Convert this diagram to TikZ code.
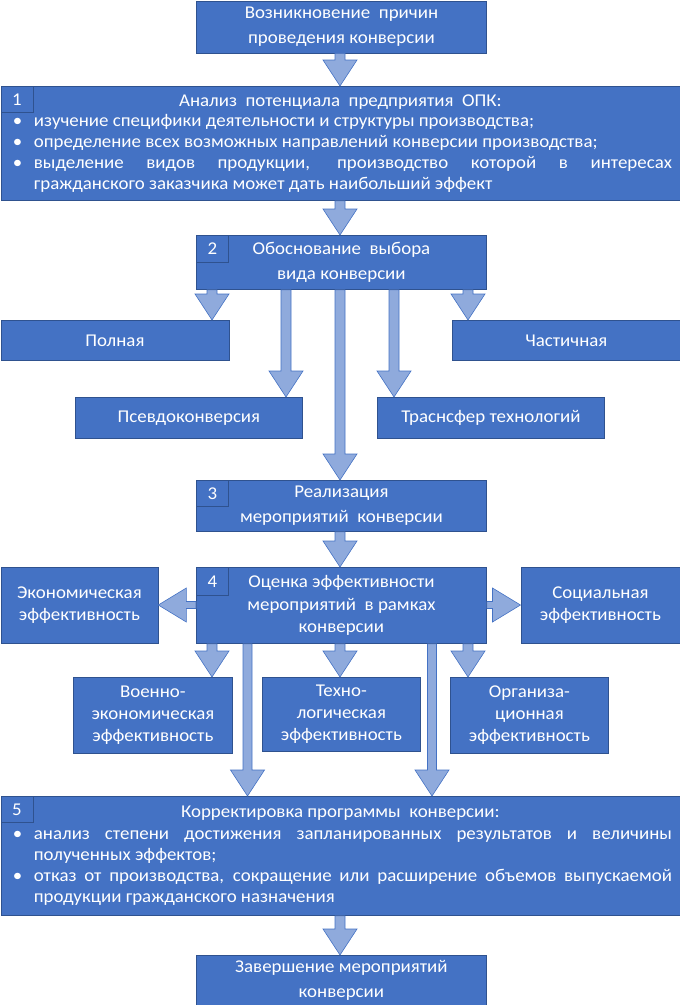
\documentclass[tikz,border=0pt]{standalone}
\usepackage{fontspec}
\setmainfont[FakeStretch=1.05]{Carlito}
\usetikzlibrary{calc}
\definecolor{boxfill}{RGB}{68,114,196}
\definecolor{boxline}{RGB}{47,82,143}
\definecolor{arrfill}{RGB}{143,170,220}
\definecolor{arrline}{RGB}{68,114,196}
\tikzset{
  box/.style={draw=boxline, fill=boxfill, text=white, line width=0.8pt, inner sep=0pt,
    anchor=north west, align=center, font=\fontsize{18}{24.5}\selectfont},
  smallbox/.style={box, font=\fontsize{18}{22}\selectfont},
  numbox/.style={draw=boxline, fill=boxfill, text=white, line width=0.8pt, inner sep=0pt,
    anchor=north west, minimum width=32pt, minimum height=26pt, font=\fontsize{18}{20}\selectfont},
  barrow/.style={draw=arrline, fill=arrfill, line width=0.6pt, line join=miter},
}
% vertical block arrow: #1 x position, #2 source node, #3 target node, #4 shaft half width
\newcommand\arrdown[4]{%
  \path[barrow] let \p1=(#1,0), \p2=(#2.south), \p3=(#3.north) in
    (\x1-#4,\y2) -- (\x1-#4,\y3+26pt) -- (\x1-17pt,\y3+26pt) -- (\x1,\y3) --
    (\x1+17pt,\y3+26pt) -- (\x1+#4,\y3+26pt) -- (\x1+#4,\y2) -- cycle;}
% horizontal block arrows: #1 source, #2 target, #3 y position
\newcommand\arrleft[3]{%
  \path[barrow] let \p1=(0,#3), \p2=(#1.west), \p3=(#2.east) in
    (\x2,\y1+3.5pt) -- (\x3+28pt,\y1+3.5pt) -- (\x3+28pt,\y1+17pt) -- (\x3,\y1) --
    (\x3+28pt,\y1-17pt) -- (\x3+28pt,\y1-3.5pt) -- (\x2,\y1-3.5pt) -- cycle;}
\newcommand\arrright[3]{%
  \path[barrow] let \p1=(0,#3), \p2=(#1.east), \p3=(#2.west) in
    (\x2,\y1+3.5pt) -- (\x3-28pt,\y1+3.5pt) -- (\x3-28pt,\y1+17pt) -- (\x3,\y1) --
    (\x3-28pt,\y1-17pt) -- (\x3-28pt,\y1-3.5pt) -- (\x2,\y1-3.5pt) -- cycle;}
\newcommand\bitem{\par\noindent\hangindent=25pt\hangafter=1\makebox[25pt][l]{\hspace{4pt}•}}
\begin{document}
\begin{tikzpicture}[x=1pt,y=-1pt]
\useasboundingbox (0,0) rectangle (680,1005);
% boxes
\node[box, minimum width=290pt, minimum height=52pt] (top) at (196,0.5)
  {Возникновение\ \ причин\\проведения конверсии};
\node[box, minimum width=679pt, minimum height=114pt, text width=663pt, inner xsep=8pt,
  align=justify, font=\fontsize{18}{20.8}\selectfont] (b1) at (0.5,86)
  {\makebox[\linewidth][c]{Анализ\ \ потенциала\ \ предприятия\ \ ОПК:}%
   \bitem изучение специфики деятельности и структуры производства;%
   \bitem определение всех возможных направлений конверсии производства;%
   \bitem выделение видов продукции, производство которой в интересах\linebreak гражданского заказчика может дать наибольший эффект\par};
\node[numbox] (n1) at (0.5,86) {1};
\node[box, minimum width=290pt, minimum height=54pt] (b2) at (196,235)
  {Обоснование\ \ выбора\\вида конверсии};
\node[numbox, minimum height=27pt] (n2) at (196,235) {2};
\node[box, minimum width=228pt, minimum height=40pt] (full) at (0.5,320) {Полная};
\node[box, minimum width=228pt, minimum height=40pt] (part) at (452,320) {Частичная};
\node[box, minimum width=227pt, minimum height=41pt] (pseudo) at (75,397) {Псевдоконверсия};
\node[box, minimum width=227pt, minimum height=41pt] (trans) at (377,397) {Траснсфер технологий};
\node[box, minimum width=290pt, minimum height=51pt] (b3) at (196,480)
  {Реализация\\мероприятий\ \ конверсии};
\node[numbox] (n3) at (196,480) {3};
\node[box, minimum width=290pt, minimum height=76pt, font=\fontsize{18}{22.5}\selectfont] (b4) at (196,567)
  {Оценка эффективности\\мероприятий\ \ в рамках\\конверсии};
\node[numbox, minimum height=28pt] (n4) at (196,567) {4};
\node[smallbox, minimum width=157pt, minimum height=76pt] (econ) at (0.5,567)
  {Экономическая\\эффективность};
\node[smallbox, minimum width=159pt, minimum height=76pt] (soc) at (520.5,567)
  {Социальная\\эффективность};
\node[smallbox, minimum width=159pt, minimum height=76pt] (mil) at (73,677)
  {Военно-\\экономическая\\эффективность};
\node[smallbox, minimum width=158pt, minimum height=74pt] (tech) at (262,677)
  {Техно-\\логическая\\эффективность};
\node[smallbox, minimum width=158pt, minimum height=76pt] (org) at (450,677)
  {Организа-\\ционная\\эффективность};
\node[box, minimum width=679pt, minimum height=119pt, text width=663pt, inner xsep=8pt,
  align=justify, font=\fontsize{18}{21.2}\selectfont] (b5) at (0.5,796)
  {\makebox[\linewidth][c]{Корректировка программы\ \ конверсии:}%
   \bitem анализ степени достижения запланированных результатов и величины\linebreak полученных эффектов;%
   \bitem отказ от производства, сокращение или расширение объемов выпускаемой\linebreak продукции гражданского назначения\par};
\node[numbox] (n5) at (0.5,796) {5};
\node[box, minimum width=290pt, minimum height=50pt] (fin) at (196,955)
  {Завершение мероприятий\\конверсии};
% arrows
\arrdown{340}{top}{b1}{5pt}
\arrdown{340}{b1}{b2}{5pt}
\arrdown{212}{b2}{full}{5pt}
\arrdown{286}{b2}{pseudo}{5pt}
\arrdown{340}{b2}{b3}{5pt}
\arrdown{394}{b2}{trans}{5pt}
\arrdown{468}{b2}{part}{5pt}
\arrdown{340}{b3}{b4}{5pt}
\arrleft{b4}{econ}{605}
\arrright{b4}{soc}{605}
\arrdown{212}{b4}{mil}{5pt}
\arrdown{247.5}{b4}{b5}{4.5pt}
\arrdown{340}{b4}{tech}{5pt}
\arrdown{432}{b4}{b5}{4.5pt}
\arrdown{468}{b4}{org}{5pt}
\arrdown{340}{b5}{fin}{5pt}
\end{tikzpicture}
\end{document}
